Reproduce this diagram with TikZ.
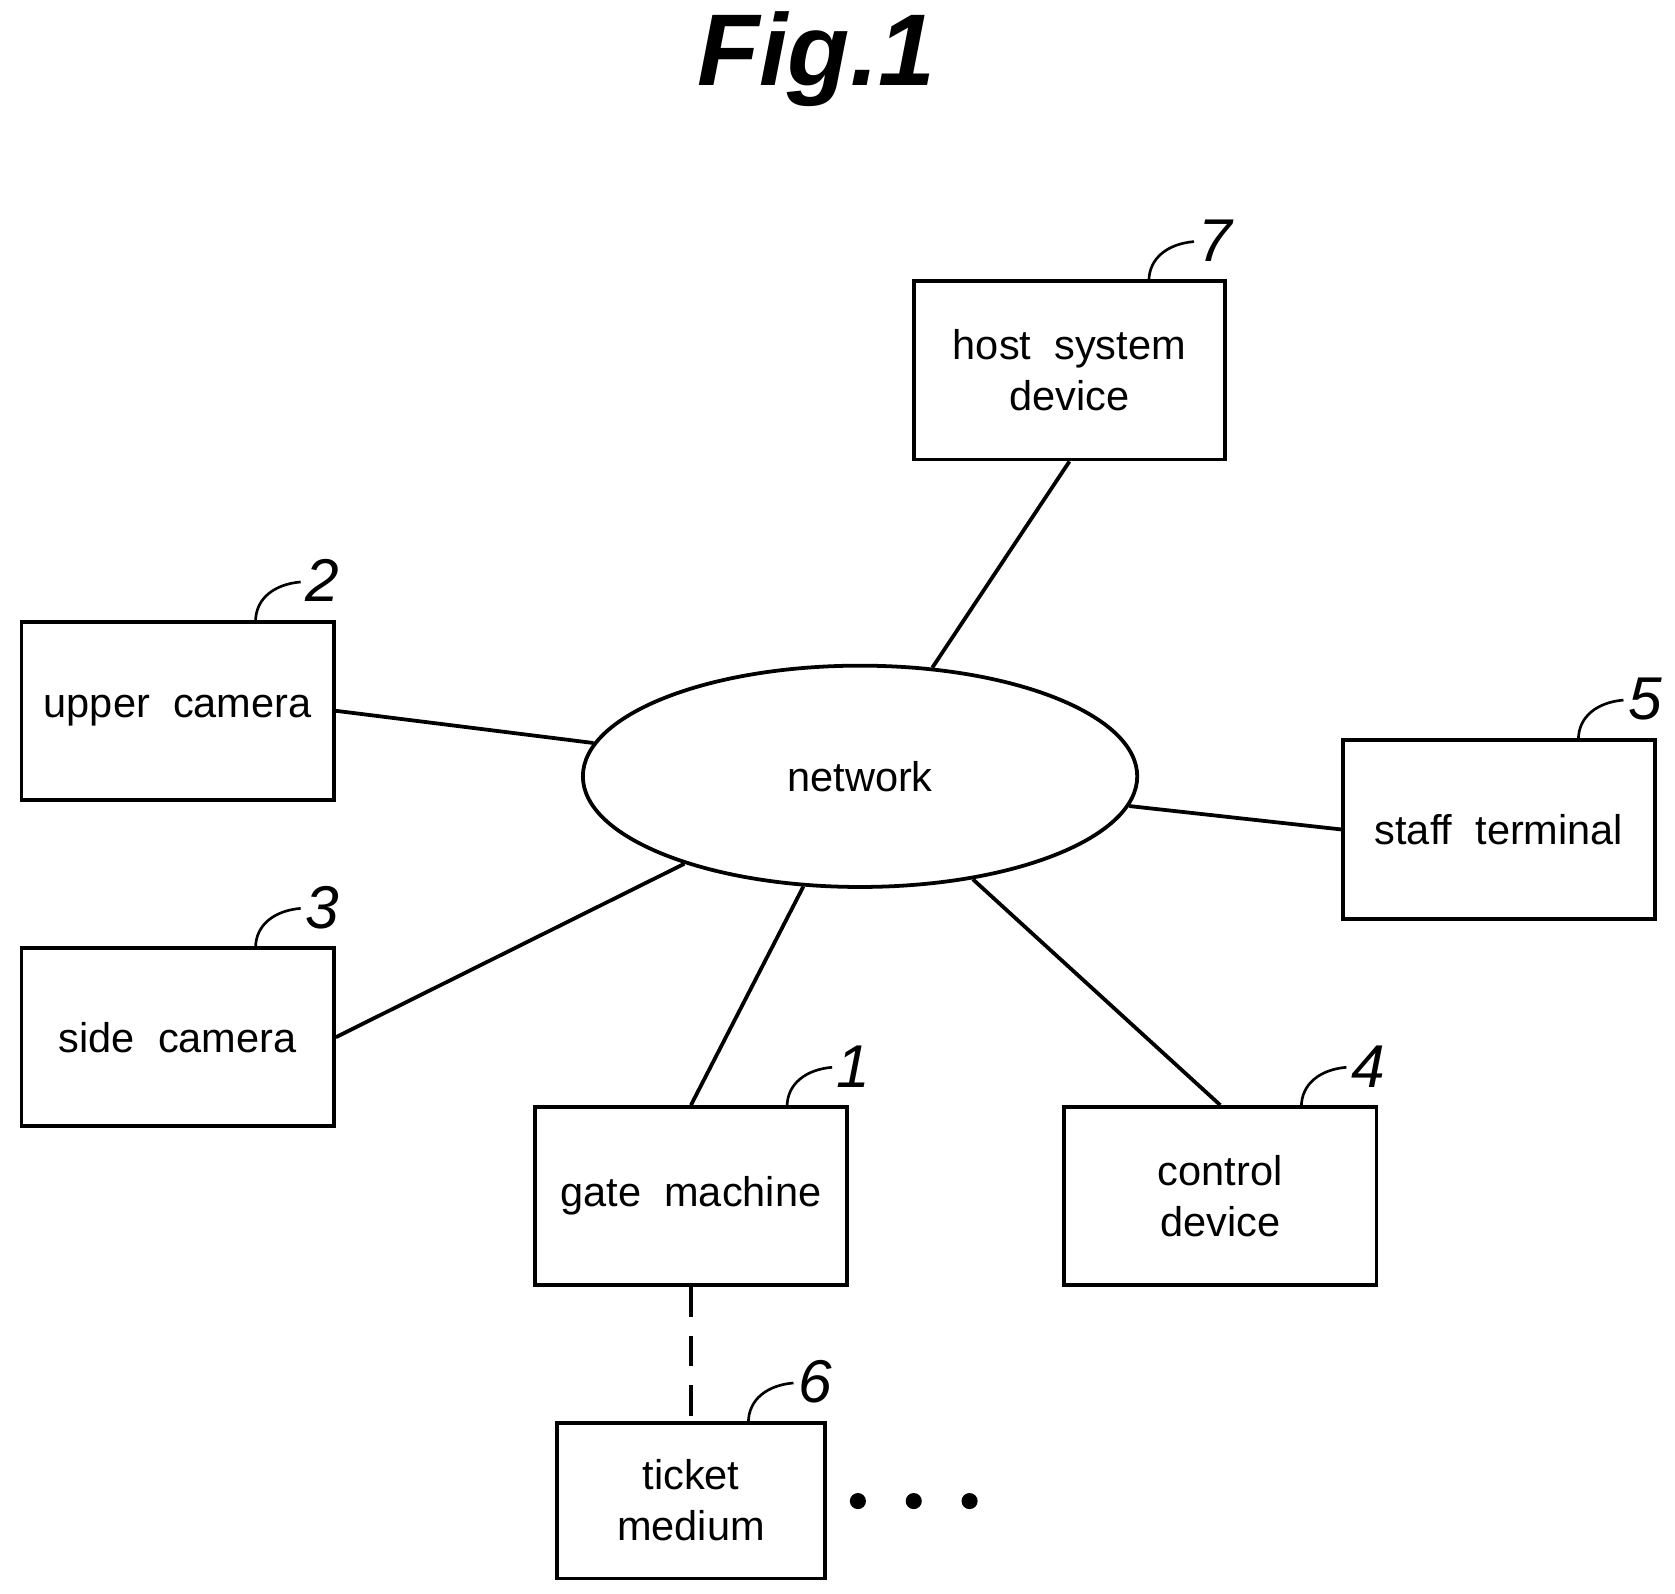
\documentclass[tikz,border=0pt]{standalone}
\usepackage{fontspec}
\setmainfont{Liberation Sans}
\usetikzlibrary{shapes.geometric}
\begin{document}
\begin{tikzpicture}[x=0.01cm,y=-0.01cm,
  box/.style={draw,line width=1pt,inner sep=0pt,align=center,font=\fontsize{11}{13.5}\selectfont},
  link/.style={line width=1pt},
  num/.style={font=\fontsize{16}{16}\selectfont\itshape},
  sq/.style={line width=0.7pt}]
\useasboundingbox (0,0) rectangle (1560,1484);
\node[font=\fontsize{27}{27}\selectfont\bfseries\itshape] (title) at (760,55) {Fig.1};
\node[draw,ellipse,line width=1pt,minimum width=5.16cm,minimum height=2.06cm,inner sep=0pt,font=\fontsize{11}{13.5}\selectfont] (net) at (801,723) {network};
\newcommand\mkbox[6]{\node[box,minimum width=#4*0.01cm,minimum height=#5*0.01cm] (#1) at (#2,#3) {#6};}
\mkbox{host}{996}{345}{290}{166}{host\ \ system\\device}
\mkbox{upper}{165.5}{662}{291}{166}{upper\ \ camera}
\mkbox{side}{165.5}{966}{291}{166}{side\ \ camera}
\mkbox{staff}{1396}{772.5}{290}{167}{staff\ \ terminal}
\mkbox{gate}{643.5}{1114}{291}{166}{gate\ \ machine}
\mkbox{control}{1136.5}{1114}{291}{166}{control\\device}
\mkbox{ticket}{643.5}{1397.5}{249}{145}{ticket\\medium}
\draw[link] (host.south) -- (net);
\draw[link] (upper.east) -- (net);
\draw[link] (side.east) -- (net);
\draw[link] (gate.north) -- (net);
\draw[link] (control.north) -- (net);
\draw[link] (staff.west) -- (net);
\draw[link,dash pattern=on 8pt off 5pt] (gate.south) -- (ticket.north);
\foreach \x in {799,851,903} \fill (\x,1398) circle (7.5);
\newcommand\tagn[4]{\draw[sq] (#1,#2) .. controls (#1,#2-22) and (#1+18,#2-35) .. (#1+42,#2-37);
  \node[num] (#4) at (#1+62,#2-38) {#3};}
\tagn{1070}{262}{7}{n7}
\tagn{238}{579}{2}{n2}
\tagn{238}{883}{3}{n3}
\tagn{1470}{689}{5}{n5}
\tagn{733}{1031}{1}{n1}
\tagn{1212}{1031}{4}{n4}
\tagn{697}{1325}{6}{n6}
\end{tikzpicture}
\end{document}
